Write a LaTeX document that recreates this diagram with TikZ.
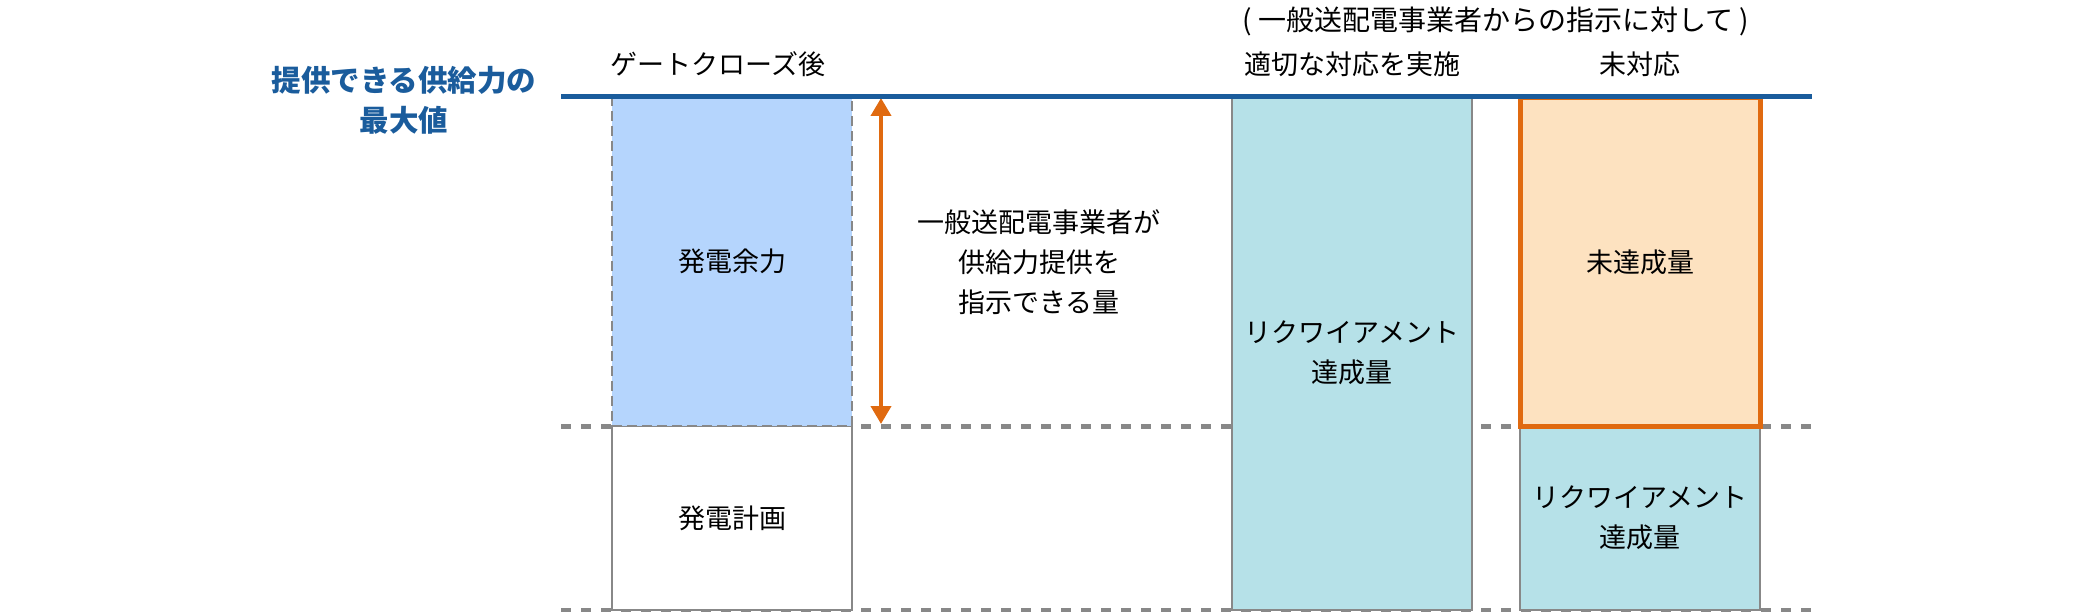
\documentclass[tikz,border=0pt]{standalone}
\usepackage{fontspec}
\setmainfont{Noto Sans CJK JP}
\usetikzlibrary{arrows.meta, positioning}

\definecolor{capblue}{RGB}{26,92,156}
\definecolor{sparefill}{RGB}{181,213,253}
\definecolor{metfill}{RGB}{182,225,232}
\definecolor{unmetfill}{RGB}{253,226,192}
\definecolor{unmetline}{RGB}{224,106,16}
\definecolor{barline}{RGB}{136,136,136}

\begin{document}
\begin{tikzpicture}[
    x=1pt, y=-1pt,
    bar/.style={minimum width=240pt, inner sep=0pt, outer sep=0pt, align=center,
                font=\fontsize{27}{40}\selectfont},
    label/.style={align=center, inner sep=0pt, font=\fontsize{27}{40}\selectfont},
    level/.style={draw=barline, line width=5pt, dash pattern=on 10pt off 10pt},
    >={Triangle[width=20pt, length=18pt]}
  ]
  \useasboundingbox (0,0) rectangle (2080,612);

  % Level lines
  \coordinate (planw) at (561,426);
  \coordinate (plane) at (1812,426);
  \coordinate (basew) at (561,610);
  \coordinate (basee) at (1812,610);
  \draw[level] (planw) -- (plane);
  \draw[level] (basew) -- (basee);

  % Gate closure column
  \node[bar, fill=white, draw=barline, line width=2pt, minimum height=184pt,
        anchor=north west] (plan) at (612,426) {発電計画};
  \node[bar, fill=sparefill, draw=barline, line width=2pt,
        dash pattern=on 10pt off 5pt, minimum height=330pt,
        above=0pt of plan] (spare) {発電余力};

  % Requirement met column
  \node[bar, fill=metfill, draw=barline, line width=2pt, minimum height=514pt,
        anchor=north west] (met) at (1232,96) {リクワイアメント\\達成量};

  % Not handled column
  \node[bar, fill=metfill, draw=barline, line width=2pt, minimum height=184pt,
        anchor=north west] (metpart) at (1520,426) {リクワイアメント\\達成量};
  \node[bar, fill=unmetfill, draw=unmetline, line width=5pt, minimum height=328pt,
        above=0pt of metpart] (unmet) {未達成量};

  % Headers
  \node[label, text=capblue, font=\fontsize{29.5}{40}\selectfont\bfseries]
    (maxcap) at (404,100) {提供できる供給力の\\最大値};
  \node[label] (gchdr) at (718,64) {ゲートクローズ後};
  \node[label, font=\fontsize{28}{40}\selectfont] (ordr) at (1496,21)
    {( 一般送配電事業者からの指示に対して )};
  \node[label] (methdr) at (1352,64) {適切な対応を実施};
  \node[label] (unmethdr) at (1640,64) {未対応};

  % Instructable amount
  \coordinate (reachtop) at (881,98);
  \coordinate (reachbot) at (881,424);
  \draw[<->, draw=unmetline, line width=4pt] (reachtop) -- (reachbot);
  \node[label] (reach) at (1039,262) {一般送配電事業者が\\供給力提供を\\指示できる量};

  % Maximum capacity line
  \coordinate (capw) at (561,96.5);
  \coordinate (cape) at (1812,96.5);
  \draw[capblue, line width=5pt] (capw) -- (cape);

\end{tikzpicture}
\end{document}
